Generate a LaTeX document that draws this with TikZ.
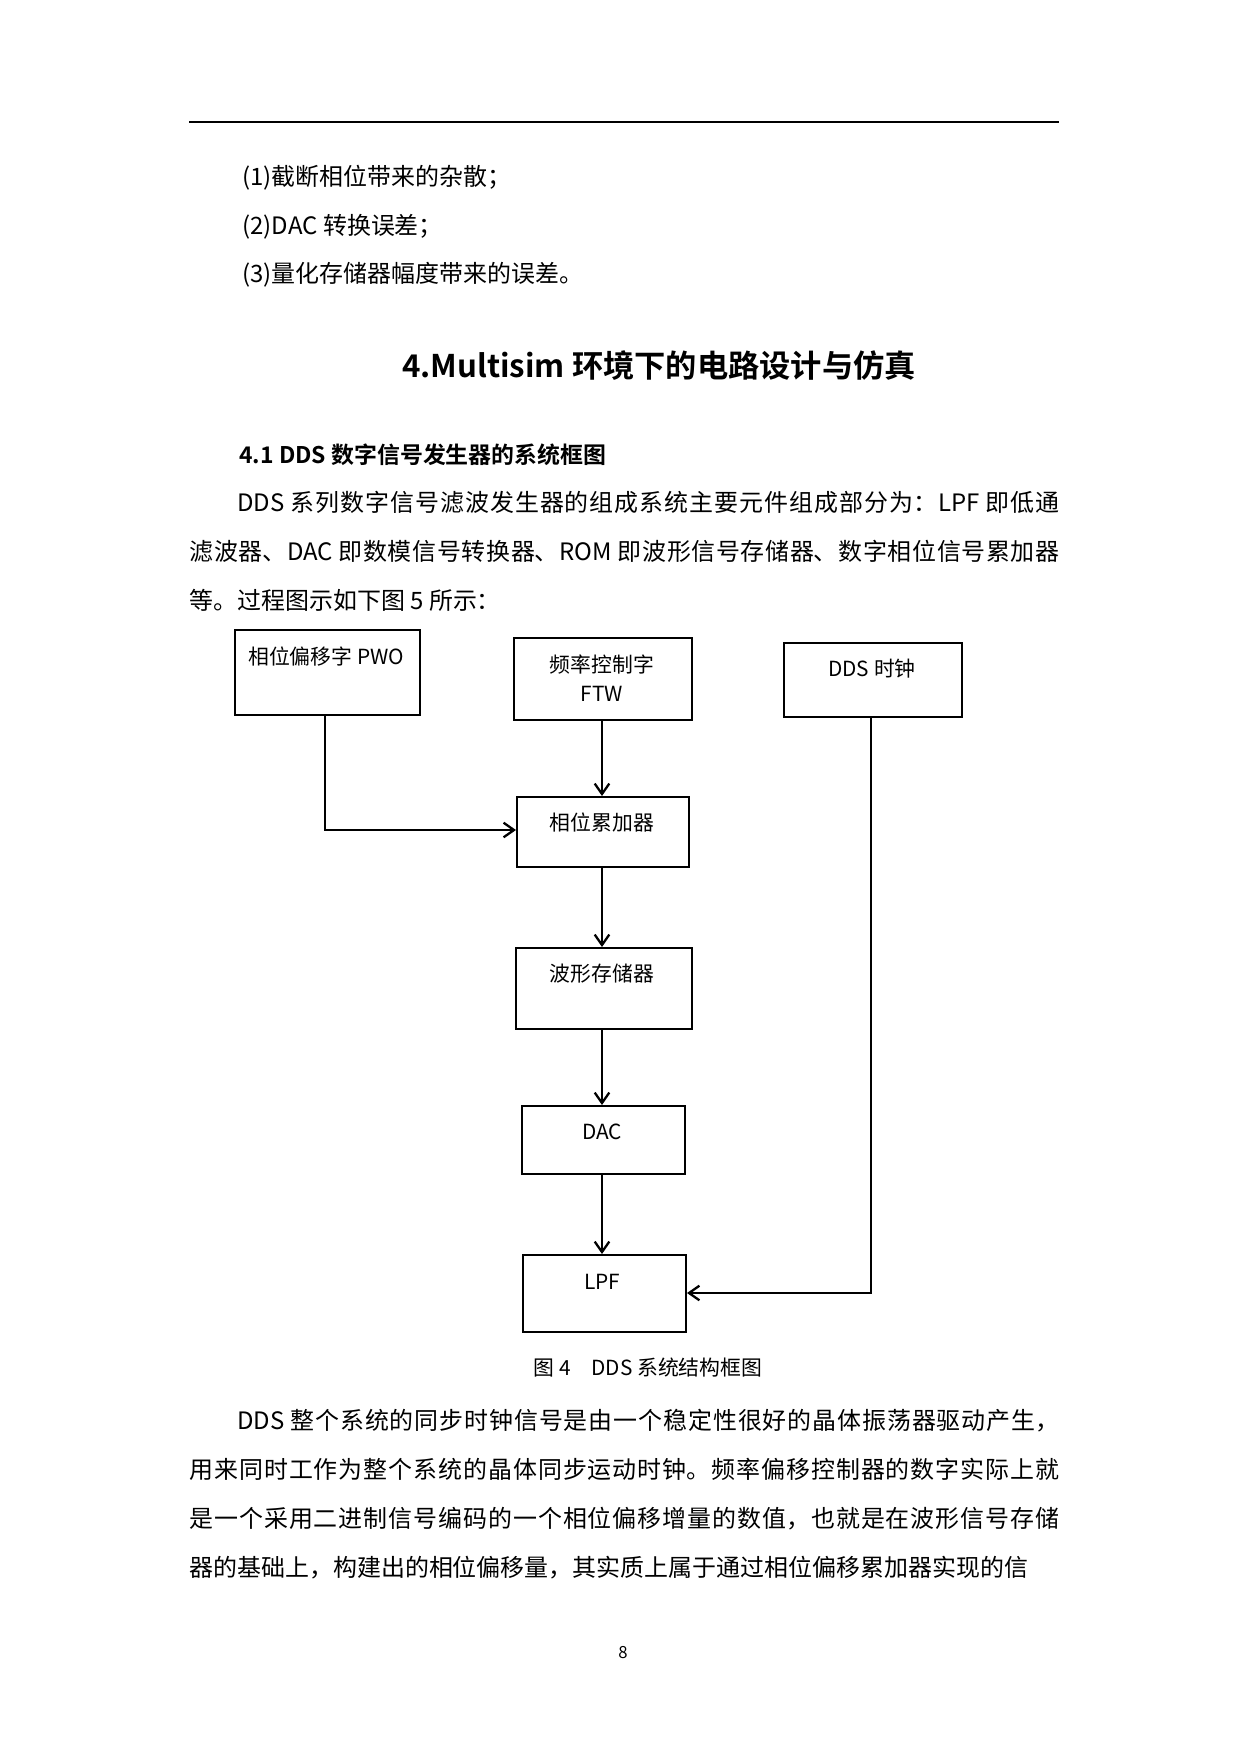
\documentclass[tikz,border=0pt]{standalone}
\usepackage{fontspec}
\setmainfont{Noto Sans CJK SC}
\newfontfamily\cjkb{Noto Sans CJK SC Bold}
\usetikzlibrary{arrows.meta}
\XeTeXlinebreaklocale "zh"
\XeTeXlinebreakskip=0pt plus 2pt
\begin{document}
\begin{tikzpicture}[x=0.48pt,y=-0.48pt,
  box/.style={draw,line width=1pt,anchor=north west,inner sep=0pt},
  lab/.style={font=\fontsize{10}{12}\selectfont,anchor=north},
  arr/.style={line width=1.1pt,-{Straight Barb[length=5pt,width=7pt]}},
  body/.style={font=\fontsize{11.5}{23.5}\selectfont,anchor=north west,inner sep=0pt}]
\useasboundingbox (0,0) rectangle (1240,1754);
\fill[white] (0,0) rectangle (1240,1754);
\draw[line width=0.8pt] (189,122) -- (1059,122);
\node[body] (l1) at (242,165) {(1)截断相位带来的杂散；};
\node[body] (l2) at (242,214) {(2)DAC 转换误差；};
\node[body] (l3) at (242,262) {(3)量化存储器幅度带来的误差。};
\node[font=\fontsize{15}{18}\selectfont\cjkb] (h1) at (659,366) {4.Multisim 环境下的电路设计与仿真};
\node[body,font=\fontsize{11}{13}\selectfont\cjkb] (h2) at (239,443) {4.1 DDS 数字信号发生器的系统框图};
\node[body,text width=417.6pt,align=justify] (p1) at (189,491) {\hspace*{23pt}DDS 系列数字信号滤波发生器的组成系统主要元件组成部分为：LPF 即低通\linebreak 滤波器、DAC 即数模信号转换器、ROM 即波形信号存储器、数字相位信号累加器\linebreak 等。过程图示如下图 5 所示：};
% diagram
\begin{scope}[shift={(-5,-5)}]
\node[box,minimum width=88.8pt,minimum height=40.8pt] (pwo) at (239,634) {};
\node[lab] at (331,644) {相位偏移字 PWO};
\node[box,minimum width=85.4pt,minimum height=39.4pt] (ftw) at (518,642) {};
\node[lab,align=center] at (607,652) {频率控制字\\[2pt]FTW};
\node[box,minimum width=85.4pt,minimum height=35.5pt] (clk) at (788,647) {};
\node[lab] at (877,657) {DDS 时钟};
\node[box,minimum width=82.6pt,minimum height=33.6pt] (acc) at (521,801) {};
\node[lab] at (607,810) {相位累加器};
\node[box,minimum width=84.5pt,minimum height=38.9pt] (rom) at (520,952) {};
\node[lab] at (607,962) {波形存储器};
\node[box,minimum width=78.2pt,minimum height=32.6pt] (dac) at (526,1110) {};
\node[lab] at (607,1122) {DAC};
\node[box,minimum width=78.2pt,minimum height=37pt] (lpf) at (527,1259) {};
\node[lab] at (607,1272) {LPF};
\draw[arr] (pwo.south -| 330,0) -- (330,835) -- (acc.west |- 0,835);
\draw[arr] (ftw.south -| 607,0) -- (acc.north -| 607,0);
\draw[arr] (acc.south -| 607,0) -- (rom.north -| 607,0);
\draw[arr] (rom.south -| 607,0) -- (dac.north -| 607,0);
\draw[arr] (dac.south -| 607,0) -- (lpf.north -| 607,0);
\draw[arr] (clk.south -| 876,0) -- (876,1298) -- (lpf.east |- 0,1298);
\end{scope}
\node[font=\fontsize{10}{12}\selectfont] (cap) at (648,1368) {图 4\quad DDS 系统结构框图};
\node[body,text width=417.6pt,align=justify] (p2) at (189,1409) {\parfillskip=0pt\hspace*{23pt}DDS 整个系统的同步时钟信号是由一个稳定性很好的晶体振荡器驱动产生，\linebreak 用来同时工作为整个系统的晶体同步运动时钟。频率偏移控制器的数字实际上就\linebreak 是一个采用二进制信号编码的一个相位偏移增量的数值，也就是在波形信号存储\linebreak 器的基础上，构建出的相位偏移量，其实质上属于通过相位偏移累加器实现的信};
\node[font=\fontsize{8}{10}\selectfont] (pg) at (623,1653) {8};
\end{tikzpicture}
\end{document}
